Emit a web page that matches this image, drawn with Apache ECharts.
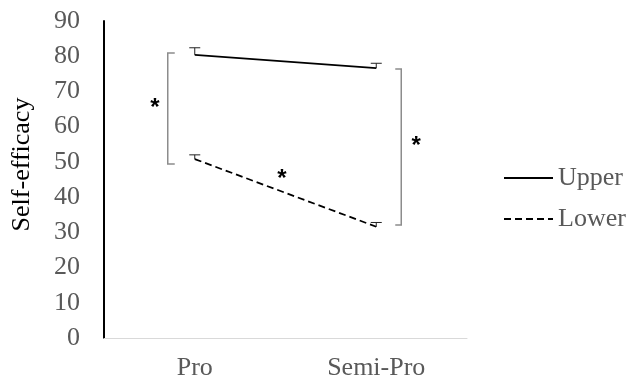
<!DOCTYPE html>
<html>
<head>
<meta charset="utf-8">
<script src="https://cdn.jsdelivr.net/npm/echarts@6/dist/echarts.min.js"></script>
<style>
  html, body { margin: 0; padding: 0; background: #fff; }
  #chart { width: 628px; height: 382px; }
</style>
</head>
<body>
<div id="chart"></div>
<script>
// Group means and their (one-sided) error bars
const categories = ['Pro', 'Semi-Pro'];
const upperValues = [80.4, 76.6];
const lowerValues = [50.8, 31.6];
const upperErrors = [2.0, 1.4];
const lowerErrors = [1.2, 1.2];
const yTicks = [0, 10, 20, 30, 40, 50, 60, 70, 80, 90];

// Significance brackets: [category index, top value, bottom value]
const brackets = [[0, 80.9, 49.4], [1, 76.4, 32.1]];
// Significance stars: [x position (category units), value]
const stars = [[-0.22, 66.2], [0.48, 46.3], [1.22, 55.6]];

const FONT = '"Liberation Serif", "Times New Roman", serif';
const GREY_TEXT = '#595959';

const chart = echarts.init(document.getElementById('chart'));

function errorSeries(values, errors, name) {
  return {
    type: 'custom',
    name: name + '-err',
    silent: true,
    z: 3,
    data: values.map((v, i) => [i, v, v + errors[i]]),
    renderItem(params, api) {
      const base = api.coord([api.value(0), api.value(1)]);
      const end = api.coord([api.value(0), api.value(2)]);
      const half = 5.5;
      return {
        type: 'group',
        children: [
          { type: 'line', shape: { x1: base[0], y1: base[1], x2: end[0], y2: end[1] },
            style: { stroke: '#222', lineWidth: 1 } },
          { type: 'line', shape: { x1: end[0] - half, y1: end[1], x2: end[0] + half, y2: end[1] },
            style: { stroke: '#222', lineWidth: 1 } }
        ]
      };
    }
  };
}

chart.setOption({
  animation: false,
  backgroundColor: '#fff',
  grid: { left: 104, right: 161, top: 21, bottom: 44 },
  legend: {
    orient: 'vertical',
    left: 498,
    top: 160,
    itemWidth: 49,
    itemHeight: 26,
    itemGap: 15,
    itemStyle: { opacity: 0 },
    data: ['Upper', 'Lower'],
    textStyle: { fontFamily: FONT, fontSize: 26, color: GREY_TEXT }
  },
  xAxis: {
    type: 'category',
    data: categories,
    boundaryGap: true,
    axisLine: { lineStyle: { color: '#d9d9d9', width: 1 } },
    axisTick: { show: false },
    axisLabel: { fontFamily: FONT, fontSize: 26, color: GREY_TEXT, margin: 17 }
  },
  yAxis: {
    type: 'value',
    min: 0,
    max: 90,
    interval: 10,
    name: 'Self-efficacy',
    nameLocation: 'middle',
    nameGap: 69,
    nameTextStyle: { fontFamily: FONT, fontSize: 26, color: '#000', padding: [0, 0, 0, 30] },
    axisLine: { show: true, lineStyle: { color: '#000', width: 2 } },
    axisTick: { show: false },
    splitLine: { show: false },
    axisLabel: {
      fontFamily: FONT, fontSize: 26, color: GREY_TEXT, margin: 24,
      formatter: v => (yTicks.indexOf(v) >= 0 ? String(v) : '')
    }
  },
  series: [
    {
      name: 'Upper', type: 'line', data: upperValues, symbol: 'none', z: 4,
      color: '#000',
      lineStyle: { color: '#000', width: 1.75, type: 'solid' }
    },
    {
      name: 'Lower', type: 'line', data: lowerValues, symbol: 'none', z: 4,
      color: '#000',
      lineStyle: { color: '#000', width: 1.75, type: [7, 4] }
    },
    errorSeries(upperValues, upperErrors, 'Upper'),
    errorSeries(lowerValues, lowerErrors, 'Lower'),
    {
      type: 'custom',
      name: 'brackets',
      silent: true,
      data: brackets,
      renderItem(params, api) {
        const idx = api.value(0);
        const top = api.coord([idx, api.value(1)]);
        const bot = api.coord([idx, api.value(2)]);
        // left group opens right, right group opens left
        const dx = idx === 0 ? -27 : 25;
        const tick = idx === 0 ? 7 : -6;
        const x = top[0] + dx;
        return {
          type: 'polyline',
          shape: { points: [[x + tick, top[1]], [x, top[1]], [x, bot[1]], [x + tick, bot[1]]] },
          style: { stroke: '#8c8c8c', lineWidth: 1.5, fill: 'none' }
        };
      }
    },
    {
      type: 'custom',
      name: 'stars',
      silent: true,
      data: stars,
      renderItem(params, api) {
        const xA = api.coord([0, 0])[0];
        const xB = api.coord([1, 0])[0];
        const px = xA + (xB - xA) * api.value(0);
        const py = api.coord([0, api.value(1)])[1];
        return {
          type: 'text',
          style: {
            x: px, y: py + 4, text: '*', align: 'center', verticalAlign: 'middle',
            fontFamily: '"Liberation Sans", Arial, sans-serif', fontSize: 24, fontWeight: 'bold', fill: '#000'
          }
        };
      }
    }
  ]
});
</script>
</body>
</html>
